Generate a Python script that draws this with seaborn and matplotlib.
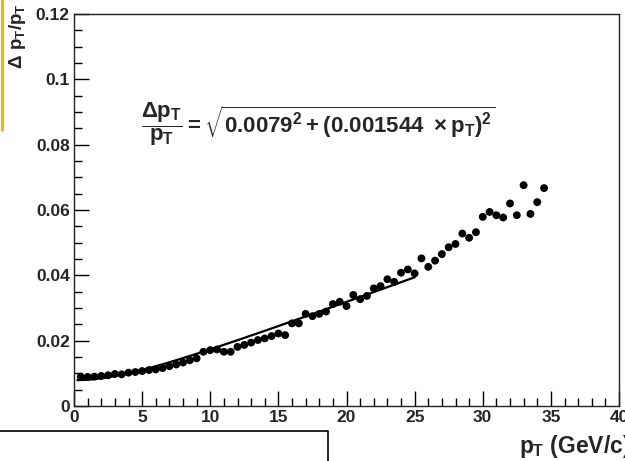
import numpy as np
import pandas as pd
import matplotlib
matplotlib.use("Agg")
import matplotlib.pyplot as plt
import seaborn as sns
from matplotlib.ticker import MultipleLocator, FixedLocator
from matplotlib.lines import Line2D

# ---- data ----
pt = [0.5, 1.0, 1.5, 2.0, 2.5, 3.0, 3.5, 4.0, 4.5, 5.0, 5.5, 6.0, 6.5, 7.0, 7.5, 8.0,
      8.5, 9.0, 9.5, 10.0, 10.5, 11.0, 11.5, 12.0, 12.5, 13.0, 13.5, 14.0, 14.5, 15.0,
      15.5, 16.0, 16.5, 17.0, 17.5, 18.0, 18.5, 19.0, 19.5, 20.0, 20.5, 21.0, 21.5,
      22.0, 22.5, 23.0, 23.5, 24.0, 24.5, 25.0, 25.5, 26.0, 26.5, 27.0, 27.5, 28.0,
      28.5, 29.0, 29.5, 30.0, 30.5, 31.0, 31.5, 32.0, 32.5, 33.0, 33.5, 34.0, 34.5]
resolution = [0.0090, 0.0089, 0.0090, 0.0092, 0.0094, 0.0098, 0.0097, 0.0102, 0.0104,
              0.0107, 0.0110, 0.0112, 0.0116, 0.0122, 0.0127, 0.0133, 0.0140, 0.0146,
              0.0166, 0.0171, 0.0173, 0.0166, 0.0166, 0.0181, 0.0187, 0.0194, 0.0202,
              0.0207, 0.0214, 0.0222, 0.0217, 0.0253, 0.0253, 0.0282, 0.0275, 0.0282,
              0.0289, 0.0312, 0.0319, 0.0306, 0.0340, 0.0327, 0.0337, 0.0360, 0.0367,
              0.0388, 0.0380, 0.0408, 0.0418, 0.0406, 0.0452, 0.0426, 0.0445, 0.0465,
              0.0486, 0.0496, 0.0528, 0.0515, 0.0532, 0.0579, 0.0594, 0.0584, 0.0577,
              0.0620, 0.0584, 0.0676, 0.0588, 0.0624, 0.0667]
fit_const = 0.0079
fit_slope = 0.001544
fit_range = [0.25, 25.0]
xticklabels = ["0", "5", "10", "15", "20", "25", "30", "35", "40"]
yticklabels = ["0", "0.02", "0.04", "0.06", "0.08", "0.1", "0.12"]

df = pd.DataFrame({"pt": pt, "res": resolution})
fit_x = np.linspace(fit_range[0], fit_range[1], 200)
fit_df = pd.DataFrame({"pt": fit_x,
                       "res": np.sqrt(fit_const**2 + (fit_slope * fit_x)**2)})

sns.set_style("ticks")
plt.rcParams["font.family"] = ["Liberation Sans", "DejaVu Sans"]
plt.rcParams["mathtext.fontset"] = "custom"
plt.rcParams["mathtext.rm"] = "Liberation Sans:bold"
plt.rcParams["mathtext.it"] = "Liberation Sans:bold"
plt.rcParams["mathtext.bf"] = "Liberation Sans:bold"
plt.rcParams["mathtext.sf"] = "Liberation Sans:bold"

W, H = 625, 461
fig = plt.figure(figsize=(W / 100, H / 100), dpi=100)
ax = fig.add_axes([74 / W, 1 - 406 / H, (619 - 74) / W, (406 - 14) / H])

sns.lineplot(data=fit_df, x="pt", y="res", ax=ax, color="black", lw=1.6, zorder=2)
sns.scatterplot(data=df, x="pt", y="res", ax=ax, color="black", s=32,
                edgecolor="none", zorder=3)

ax.set_xlim(0, 40)
ax.set_ylim(0, 0.12)
ax.set_xlabel("")
ax.set_ylabel("")

ax.xaxis.set_major_locator(FixedLocator([float(t) for t in xticklabels]))
ax.set_xticklabels(xticklabels)
ax.xaxis.set_minor_locator(MultipleLocator(1))
ax.yaxis.set_major_locator(FixedLocator([float(t) for t in yticklabels]))
ax.set_yticklabels(yticklabels)
ax.yaxis.set_minor_locator(MultipleLocator(0.005))

ax.tick_params(which="both", direction="in", top=False, right=False,
               width=1.0, color="black")
ax.tick_params(which="major", length=11, labelsize=12.5, pad=3)
ax.tick_params(which="minor", length=5.5)
for lab in ax.get_xticklabels() + ax.get_yticklabels():
    lab.set_fontweight("bold")
for s in ax.spines.values():
    s.set_visible(True)
    s.set_linewidth(1.0)
    s.set_color("#222222")

# formula
ax.text(0.448, 0.72,
        r"$\dfrac{\Delta p_{T}}{p_{T}} = \sqrt{0.0079^{2} + (0.001544\ \times p_{T})^{2}}$",
        transform=ax.transAxes, ha="center", va="center", fontsize=16)

# axis titles
fig.text(17 / W, 1 - 3 / H, r"$\Delta\ p_{T}/p_{T}$", rotation=90,
         ha="center", va="top", fontsize=13.5)
fig.text(519 / W, 1 - 446 / H, r"$p_{T}$ (GeV/c)", ha="left", va="center",
         fontsize=16.5, fontweight="bold")

# cropping artefacts of the original canvas
fig.add_artist(Line2D([2 / W, 2 / W], [1, 1 - 130 / H], transform=fig.transFigure,
                      color="#FFA500", lw=2))
fig.add_artist(Line2D([0, 328 / W, 328 / W], [1 - 431 / H, 1 - 431 / H, 0],
                      transform=fig.transFigure, color="black", lw=1.2))

fig.savefig("out.png", dpi=100)
